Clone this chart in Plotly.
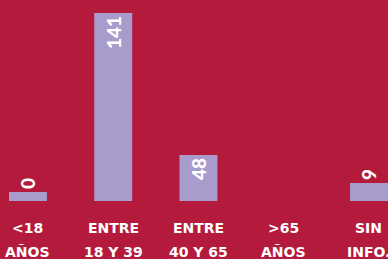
import plotly.graph_objects as go

categories = ["<18 AÑOS", "ENTRE 18 Y 39", "ENTRE 40 Y 65", ">65 AÑOS", "SIN INFO."]
label_line1 = ["<18", "ENTRE", "ENTRE", ">65", "SIN"]
label_line2 = ["AÑOS", "18 Y 39", "40 Y 65", "AÑOS", "INFO."]
values = [0, 141, 48, None, 9]
# bar lengths as drawn in the infographic (not proportional to the values)
bar_lengths = [6.8, 141, 34.5, None, 13.5]
text_positions = ["outside", "inside", "inside", "none", "outside"]

BG = "#B41A3C"
BAR = "#A79CCB"

texts = ["" if v is None else str(v) for v in values]

fig = go.Figure()
fig.add_trace(go.Bar(
    x=categories,
    y=bar_lengths,
    text=texts,
    textposition=text_positions,
    textangle=-90,
    insidetextanchor="end",
    constraintext="none",
    cliponaxis=False,
    textfont=dict(family="Lato", size=19, color="white", weight=900),
    marker=dict(color=BAR, line=dict(width=0)),
    width=0.445,
    hoverinfo="skip",
))

for cat, l1, l2 in zip(categories, label_line1, label_line2):
    fig.add_annotation(x=cat, y=-0.134, xref="x", yref="paper", text=l1,
                       showarrow=False, yanchor="middle", xanchor="center",
                       font=dict(family="DejaVu Sans", size=14, color="white", weight="bold"))
    fig.add_annotation(x=cat, y=-0.254, xref="x", yref="paper", text=l2,
                       showarrow=False, yanchor="middle", xanchor="center",
                       font=dict(family="DejaVu Sans", size=14, color="white", weight="bold"))

fig.update_layout(
    width=388, height=259,
    margin=dict(l=0, r=0, t=0, b=58),
    paper_bgcolor=BG, plot_bgcolor=BG,
    showlegend=False,
    xaxis=dict(type="category", range=[-0.328, 4.223], showgrid=False,
               showticklabels=False, zeroline=False, showline=False),
    yaxis=dict(range=[0, 150.75], showgrid=False, showticklabels=False,
               zeroline=False, showline=False),
)

fig.write_html("out.html", config={"displayModeBar": False, "staticPlot": True})

# remove the browser's default page margin so the figure fills the window
with open("out.html", "r", encoding="utf-8") as f:
    html = f.read()
html = html.replace("<head>", "<head><style>html,body{margin:0;padding:0;overflow:hidden;background:%s;}</style>" % BG, 1)
with open("out.html", "w", encoding="utf-8") as f:
    f.write(html)
